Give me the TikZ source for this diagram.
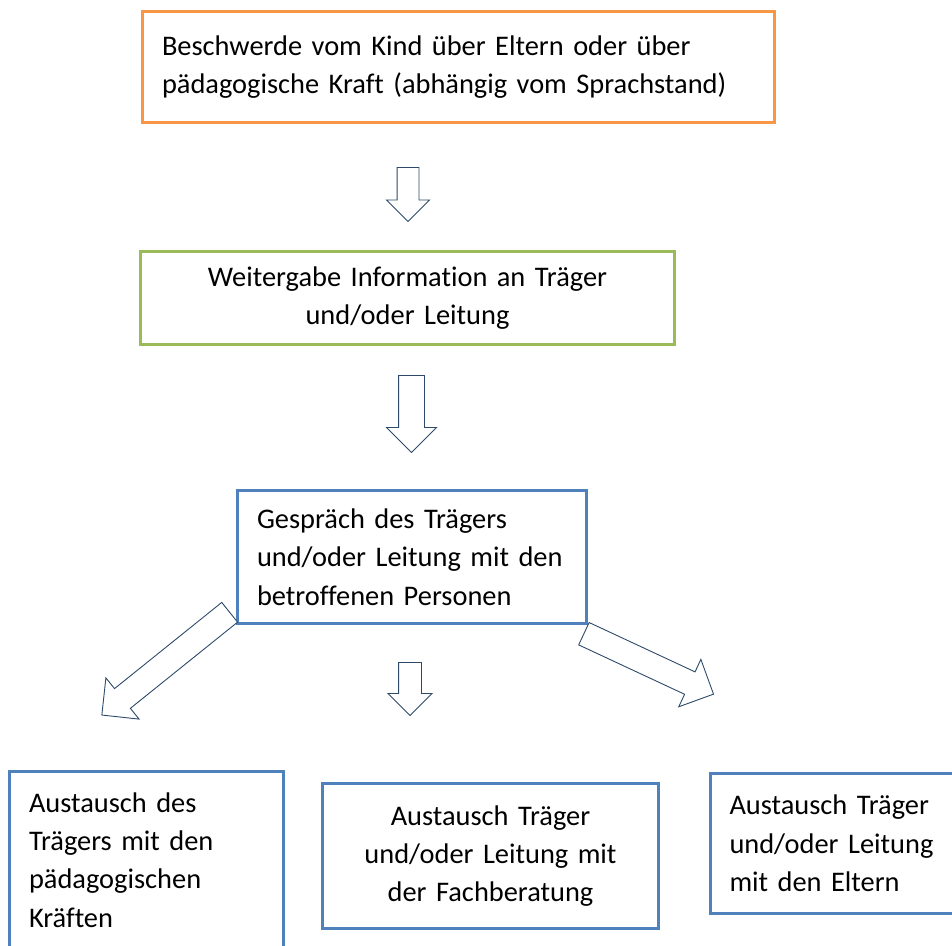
\documentclass[tikz,border=0pt]{standalone}
\usepackage{fontspec}
\setmainfont{Carlito}[Ligatures=NoCommon]
\usetikzlibrary{shapes.arrows}
\definecolor{boxorange}{HTML}{F79646}
\definecolor{boxgreen}{HTML}{9BBB59}
\definecolor{boxblue}{HTML}{4F81BD}
\definecolor{arrowline}{HTML}{2E4A6B}

\begin{document}
\begin{tikzpicture}[x=1pt,y=-1pt,
    box/.style={draw,line width=3pt,inner xsep=19.5pt,inner ysep=0pt,
        font=\fontsize{28.4}{38.3}\selectfont},
    blockarrow/.style={single arrow,draw=arrowline,fill=white,line width=0.9pt,
        inner xsep=0pt,anchor=tail}]

\useasboundingbox (0,0) rectangle (952,945);

\node[box, draw=boxorange, minimum width=632, minimum height=111, text width=593, align=left] (1) at (458.5,67)
    {Beschwerde vom Kind über Eltern oder über\\pädagogische Kraft (abhängig vom Sprachstand)};
\node[box, draw=boxgreen, minimum width=534, minimum height=93, text width=495, align=center] (2) at (407.5,298)
    {Weitergabe Information an Träger\\und/oder Leitung};
\node[box, draw=boxblue, minimum width=349, minimum height=133, text width=310, align=left] (3) at (412,557)
    {Gespräch des Trägers\\und/oder Leitung mit den\\betroffenen Personen};
\node[box, draw=boxblue, minimum width=274, minimum height=177, text width=235, align=left] (4) at (146.5,860)
    {Austausch des\\Trägers mit den\\pädagogischen\\Kräften};
\node[box, draw=boxblue, minimum width=336, minimum height=145, text width=297, align=center] (5) at (490.5,856)
    {Austausch Träger\\und/oder Leitung mit\\der Fachberatung};
\node[box, draw=boxblue, minimum height=140, text width=261, align=left, anchor=west] (6) at (708.5,843.5)
    {Austausch Träger\\und/oder Leitung\\mit den Eltern};

\node[blockarrow, minimum height=54, inner ysep=10.5, single arrow head extend=10.5, rotate=-90] (a12) at (408,167) {};
\node[blockarrow, minimum height=77, inner ysep=12.5, single arrow head extend=12, rotate=-90] (a23) at (411.5,375) {};
\node[blockarrow, minimum height=164, inner ysep=12.2, single arrow head extend=13.8, rotate=218.8] (a34) at (230,612) {};
\node[blockarrow, minimum height=53, inner ysep=11, single arrow head extend=10.5, rotate=-90] (a35) at (410,662) {};
\node[blockarrow, minimum height=143, inner ysep=11.9, single arrow head extend=13.8, rotate=-25] (a36) at (583.5,633.5) {};

\end{tikzpicture}
\end{document}
